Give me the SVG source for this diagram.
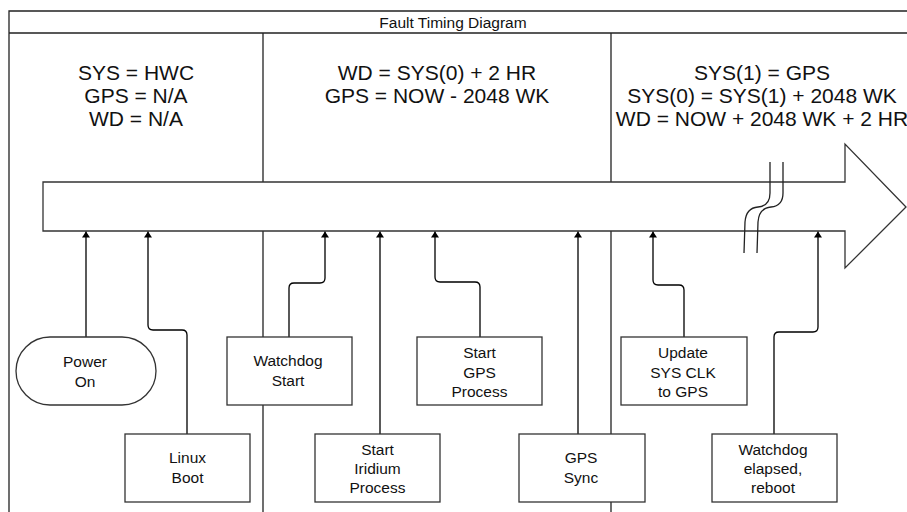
<svg xmlns="http://www.w3.org/2000/svg" width="907" height="512" viewBox="0 0 907 512">
<style>
.frame{fill:none;stroke:#222;stroke-width:1.3}
.box{fill:#fff;stroke:#333;stroke-width:1.3}
.conn{fill:none;stroke:#000;stroke-width:1.3}
.brk{fill:none;stroke:#222;stroke-width:1.3}
text{font-family:"Liberation Sans",Arial,sans-serif;fill:#111;text-anchor:middle}
.t{font-size:15.5px}
.h{font-size:21px}
</style>
<defs>
<marker id="ah" viewBox="0 0 6 8" refX="6" refY="4" markerWidth="6" markerHeight="8" markerUnits="userSpaceOnUse" orient="auto"><path d="M0,0 L6,4 L0,8 z" fill="#000"/></marker>
</defs>
<rect width="907" height="512" fill="#fff"/>
<g id="frame">
<path class="frame" d="M907,11 L9,11 L9,512 M9,33 L907,33 M263,33 L263,512 M611,33 L611,512"/>
<text class="t" x="453" y="27.5">Fault Timing Diagram</text>
</g>
<g id="headings">
<text class="h" x="136" y="80">SYS = HWC</text>
<text class="h" x="136" y="103">GPS = N/A</text>
<text class="h" x="136" y="126">WD = N/A</text>
<text class="h" x="437" y="80">WD = SYS(0) + 2 HR</text>
<text class="h" x="437" y="103">GPS = NOW - 2048 WK</text>
<text class="h" x="762" y="80">SYS(1) = GPS</text>
<text class="h" x="762" y="103">SYS(0) = SYS(1) + 2048 WK</text>
<text class="h" x="762" y="126">WD = NOW + 2048 WK + 2 HR</text>
</g>
<g id="timeline">
<polygon class="box" points="43,182 845,182 845,144 906,207 845,268 845,231 43,231"/>
</g>
<g id="connectors">
<path class="conn" marker-end="url(#ah)" d="M86,337 L86,231.5"/>
<path class="conn" marker-end="url(#ah)" d="M187,434 L187,335 Q187,330 182,330 L153,330 Q148,330 148,325 L148,231.5"/>
<path class="conn" marker-end="url(#ah)" d="M289,337 L289,288 Q289,283 294,283 L320,283 Q325,283 325,278 L325,231.5"/>
<path class="conn" marker-end="url(#ah)" d="M380,434 L380,231.5"/>
<path class="conn" marker-end="url(#ah)" d="M480,337 L480,287 Q480,282 475,282 L440,282 Q435,282 435,277 L435,231.5"/>
<path class="conn" marker-end="url(#ah)" d="M578,434 L578,231.5"/>
<path class="conn" marker-end="url(#ah)" d="M684,337 L684,290 Q684,285 679,285 L658,285 Q653,285 653,280 L653,231.5"/>
<path class="conn" marker-end="url(#ah)" d="M774,434 L774,337 Q774,332 779,332 L813,332 Q818,332 818,327 L818,231.5"/>
</g>
<g id="break">
<path class="brk" d="M770,162 L770,193 Q770,206 758,207 Q746,208 745,222 L744,253"/>
<path class="brk" d="M783,162 L783,193 Q783,206 771,207 Q759,208 758,222 L757,253"/>
</g>
<g id="power-on">
<rect class="box" x="16" y="337" width="140" height="68" rx="34" ry="34"/>
<text class="t" x="85" y="367">Power</text>
<text class="t" x="85" y="386.5">On</text>
</g>
<g id="linux-boot">
<rect class="box" x="125" y="434" width="125" height="68"/>
<text class="t" x="187.5" y="463">Linux</text>
<text class="t" x="187.5" y="482.5">Boot</text>
</g>
<g id="watchdog-start">
<rect class="box" x="227" y="337" width="125" height="68"/>
<text class="t" x="288" y="366">Watchdog</text>
<text class="t" x="288" y="385.5">Start</text>
</g>
<g id="start-iridium">
<rect class="box" x="315" y="434" width="125" height="68"/>
<text class="t" x="377.5" y="455">Start</text>
<text class="t" x="377.5" y="474">Iridium</text>
<text class="t" x="377.5" y="493">Process</text>
</g>
<g id="start-gps">
<rect class="box" x="417" y="337" width="125" height="68"/>
<text class="t" x="479.5" y="358">Start</text>
<text class="t" x="479.5" y="377.5">GPS</text>
<text class="t" x="479.5" y="397">Process</text>
</g>
<g id="gps-sync">
<rect class="box" x="519" y="434" width="126" height="68"/>
<text class="t" x="581" y="463">GPS</text>
<text class="t" x="581" y="482.5">Sync</text>
</g>
<g id="update-sys-clk">
<rect class="box" x="621" y="337" width="126" height="68"/>
<text class="t" x="683" y="358">Update</text>
<text class="t" x="683" y="377.5">SYS CLK</text>
<text class="t" x="683" y="397">to GPS</text>
</g>
<g id="watchdog-elapsed">
<rect class="box" x="712" y="434" width="125" height="68"/>
<text class="t" x="773" y="455">Watchdog</text>
<text class="t" x="773" y="474">elapsed,</text>
<text class="t" x="773" y="493">reboot</text>
</g>
</svg>
